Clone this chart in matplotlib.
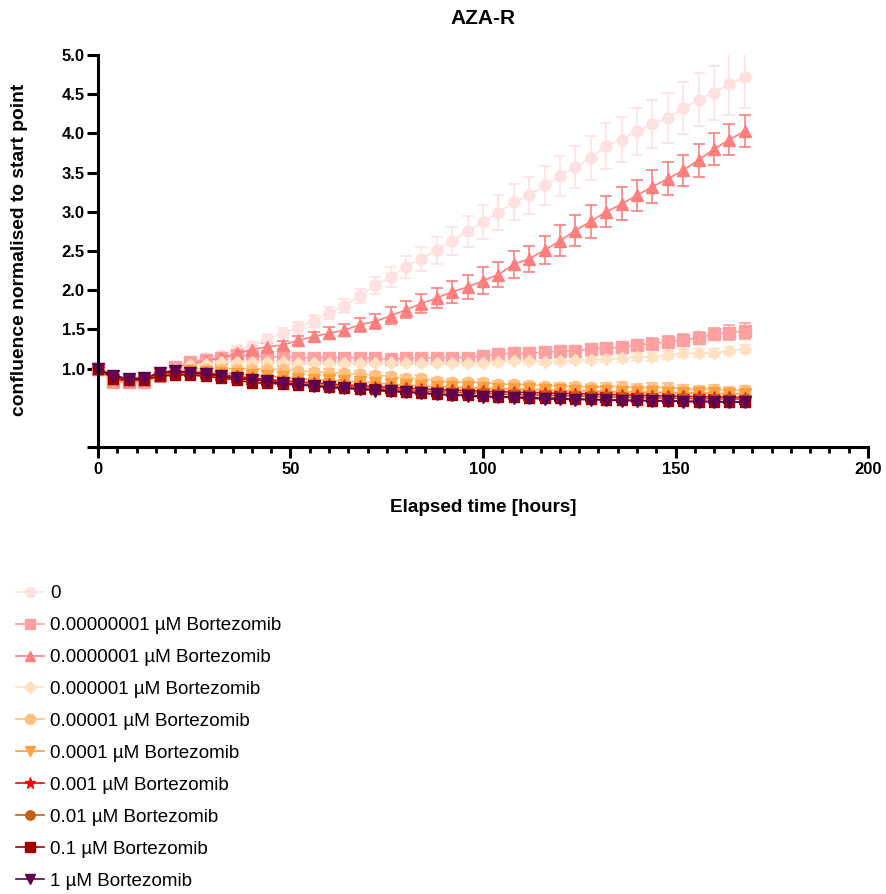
import matplotlib
matplotlib.use("Agg")
import matplotlib.pyplot as plt
from matplotlib.lines import Line2D
from matplotlib.ticker import MultipleLocator

plt.rcParams['font.family'] = ['Liberation Sans', 'DejaVu Sans']

# Elapsed time (hours)
hours = [0, 4, 8, 12, 16, 20, 24, 28, 32, 36, 40, 44, 48, 52, 56, 60, 64, 68, 72, 76,
         80, 84, 88, 92, 96, 100, 104, 108, 112, 116, 120, 124, 128, 132, 136, 140,
         144, 148, 152, 156, 160, 164, 168]

labels = ["0",
          "0.00000001 µM Bortezomib",
          "0.0000001 µM Bortezomib",
          "0.000001 µM Bortezomib",
          "0.00001 µM Bortezomib",
          "0.0001 µM Bortezomib",
          "0.001 µM Bortezomib",
          "0.01 µM Bortezomib",
          "0.1 µM Bortezomib",
          "1 µM Bortezomib"]

# Mean confluence normalised to t=0, and SEM, per condition
conf_0 = [1.00, 0.85, 0.84, 0.85, 0.92, 1.00, 1.08, 1.13, 1.17, 1.24, 1.29, 1.38, 1.45, 1.53,
          1.61, 1.71, 1.80, 1.93, 2.06, 2.17, 2.30, 2.40, 2.51, 2.63, 2.75, 2.87, 2.99, 3.12,
          3.21, 3.34, 3.46, 3.57, 3.69, 3.84, 3.92, 4.03, 4.12, 4.20, 4.32, 4.43, 4.52, 4.63, 4.72]
sem_0 = [0.00, 0.02, 0.02, 0.02, 0.03, 0.03, 0.03, 0.04, 0.04, 0.05, 0.05, 0.06, 0.064, 0.07,
         0.075, 0.077, 0.085, 0.09, 0.106, 0.13, 0.14, 0.15, 0.17, 0.18, 0.20, 0.22, 0.22, 0.23,
         0.24, 0.25, 0.255, 0.27, 0.28, 0.29, 0.29, 0.30, 0.31, 0.32, 0.33, 0.34, 0.345, 0.39, 0.39]

conf_1 = [1.00, 0.83, 0.83, 0.83, 0.90, 1.02, 1.08, 1.11, 1.13, 1.17, 1.16, 1.15, 1.15, 1.14,
          1.14, 1.14, 1.14, 1.14, 1.13, 1.12, 1.13, 1.135, 1.14, 1.14, 1.14, 1.16, 1.19, 1.195,
          1.195, 1.21, 1.22, 1.23, 1.25, 1.26, 1.27, 1.30, 1.32, 1.34, 1.37, 1.39, 1.44, 1.46, 1.48]
sem_1 = [0.00, 0.02, 0.02, 0.02, 0.02, 0.03, 0.03, 0.03, 0.03, 0.03, 0.03, 0.03, 0.03, 0.03,
         0.03, 0.03, 0.03, 0.03, 0.03, 0.03, 0.03, 0.03, 0.04, 0.04, 0.04, 0.04, 0.04, 0.04,
         0.05, 0.05, 0.05, 0.05, 0.05, 0.06, 0.06, 0.06, 0.07, 0.07, 0.07, 0.08, 0.08, 0.09, 0.10]

conf_2 = [1.00, 0.85, 0.84, 0.85, 0.92, 1.00, 1.05, 1.10, 1.14, 1.195, 1.24, 1.28, 1.30, 1.36,
          1.41, 1.45, 1.49, 1.56, 1.60, 1.675, 1.75, 1.83, 1.90, 1.98, 2.04, 2.12, 2.20, 2.33,
          2.40, 2.51, 2.63, 2.76, 2.88, 3.00, 3.10, 3.21, 3.32, 3.42, 3.53, 3.66, 3.80, 3.92, 4.03]
sem_2 = [0.00, 0.02, 0.02, 0.02, 0.02, 0.03, 0.03, 0.03, 0.04, 0.04, 0.04, 0.05, 0.05, 0.06,
         0.06, 0.077, 0.08, 0.09, 0.10, 0.106, 0.11, 0.12, 0.13, 0.14, 0.15, 0.17, 0.16, 0.17,
         0.17, 0.18, 0.20, 0.20, 0.21, 0.20, 0.21, 0.20, 0.21, 0.21, 0.20, 0.21, 0.20, 0.20, 0.20]

conf_3 = [1.00, 0.86, 0.85, 0.86, 0.93, 1.00, 1.04, 1.06, 1.08, 1.09, 1.09, 1.08, 1.08, 1.07,
          1.07, 1.07, 1.07, 1.07, 1.07, 1.07, 1.07, 1.07, 1.07, 1.07, 1.07, 1.07, 1.09, 1.10,
          1.10, 1.09, 1.095, 1.11, 1.11, 1.12, 1.13, 1.15, 1.15, 1.17, 1.195, 1.195, 1.20, 1.23, 1.25]
sem_3 = [0.00, 0.02, 0.02, 0.02, 0.02, 0.03, 0.03, 0.03, 0.03, 0.03, 0.03, 0.03, 0.03, 0.03,
         0.03, 0.03, 0.03, 0.03, 0.03, 0.03, 0.03, 0.03, 0.03, 0.03, 0.04, 0.04, 0.04, 0.04,
         0.04, 0.04, 0.04, 0.04, 0.04, 0.04, 0.05, 0.05, 0.05, 0.05, 0.05, 0.05, 0.05, 0.05, 0.05]

conf_4 = [1.00, 0.87, 0.86, 0.87, 0.93, 0.98, 1.00, 1.00, 1.00, 1.00, 1.00, 0.99, 0.99, 0.97,
          0.96, 0.95, 0.94, 0.93, 0.915, 0.90, 0.875, 0.875, 0.846, 0.83, 0.825, 0.825, 0.80, 0.80,
          0.79, 0.78, 0.77, 0.775, 0.76, 0.77, 0.775, 0.75, 0.76, 0.765, 0.74, 0.73, 0.735, 0.72, 0.725]
sem_4 = [0.00, 0.02, 0.02, 0.02, 0.02, 0.03, 0.03, 0.03, 0.03, 0.03, 0.03, 0.03, 0.04, 0.04,
         0.04, 0.04, 0.04, 0.04, 0.04, 0.04, 0.04, 0.04, 0.04, 0.04, 0.04, 0.04, 0.04, 0.04,
         0.04, 0.04, 0.04, 0.04, 0.04, 0.04, 0.05, 0.05, 0.05, 0.05, 0.05, 0.05, 0.05, 0.05, 0.05]

conf_5 = [1.00, 0.86, 0.85, 0.86, 0.93, 0.96, 0.97, 0.96, 0.95, 0.93, 0.92, 0.90, 0.89, 0.87,
          0.86, 0.85, 0.84, 0.83, 0.815, 0.80, 0.79, 0.78, 0.77, 0.765, 0.76, 0.75, 0.745, 0.74,
          0.735, 0.73, 0.725, 0.72, 0.715, 0.71, 0.705, 0.70, 0.70, 0.695, 0.69, 0.69, 0.685, 0.68, 0.68]
sem_5 = [0.00, 0.02, 0.02, 0.02, 0.02, 0.02, 0.02, 0.02, 0.02, 0.02, 0.02, 0.02, 0.02, 0.02,
         0.02, 0.02, 0.02, 0.02, 0.02, 0.02, 0.02, 0.02, 0.02, 0.02, 0.02, 0.02, 0.02, 0.02,
         0.02, 0.02, 0.02, 0.02, 0.02, 0.02, 0.02, 0.02, 0.02, 0.02, 0.02, 0.02, 0.02, 0.02, 0.02]

conf_6 = [1.00, 0.90, 0.87, 0.88, 0.93, 0.95, 0.95, 0.94, 0.92, 0.90, 0.88, 0.86, 0.845, 0.83,
          0.82, 0.805, 0.79, 0.78, 0.77, 0.76, 0.75, 0.74, 0.73, 0.725, 0.72, 0.71, 0.705, 0.70,
          0.695, 0.69, 0.685, 0.68, 0.675, 0.67, 0.665, 0.66, 0.655, 0.65, 0.645, 0.645, 0.64, 0.635, 0.63]
sem_6 = [0.00, 0.02, 0.02, 0.02, 0.02, 0.02, 0.02, 0.02, 0.02, 0.02, 0.02, 0.02, 0.02, 0.02,
         0.02, 0.02, 0.02, 0.02, 0.02, 0.02, 0.02, 0.02, 0.02, 0.02, 0.02, 0.02, 0.02, 0.02,
         0.02, 0.02, 0.02, 0.02, 0.02, 0.02, 0.02, 0.02, 0.02, 0.02, 0.02, 0.02, 0.02, 0.02, 0.02]

conf_7 = [1.00, 0.88, 0.86, 0.87, 0.92, 0.94, 0.94, 0.92, 0.90, 0.88, 0.86, 0.84, 0.82, 0.81,
          0.795, 0.78, 0.77, 0.755, 0.745, 0.735, 0.725, 0.715, 0.705, 0.70, 0.69, 0.685, 0.675, 0.67,
          0.665, 0.66, 0.655, 0.65, 0.645, 0.64, 0.635, 0.63, 0.625, 0.625, 0.62, 0.615, 0.615, 0.61, 0.61]
sem_7 = [0.00, 0.02, 0.02, 0.02, 0.02, 0.02, 0.02, 0.02, 0.02, 0.02, 0.02, 0.02, 0.02, 0.02,
         0.02, 0.02, 0.02, 0.02, 0.02, 0.02, 0.02, 0.02, 0.02, 0.02, 0.02, 0.02, 0.02, 0.02,
         0.02, 0.02, 0.02, 0.02, 0.02, 0.02, 0.02, 0.02, 0.02, 0.02, 0.02, 0.02, 0.02, 0.02, 0.02]

conf_8 = [1.00, 0.87, 0.85, 0.86, 0.90, 0.92, 0.92, 0.90, 0.88, 0.855, 0.82, 0.815, 0.80, 0.79,
          0.78, 0.76, 0.755, 0.745, 0.735, 0.715, 0.70, 0.69, 0.675, 0.665, 0.66, 0.65, 0.64, 0.64,
          0.63, 0.625, 0.62, 0.61, 0.61, 0.60, 0.60, 0.595, 0.59, 0.59, 0.585, 0.58, 0.58, 0.575, 0.57]
sem_8 = [0.00, 0.02, 0.02, 0.02, 0.02, 0.02, 0.02, 0.02, 0.02, 0.02, 0.02, 0.02, 0.02, 0.02,
         0.02, 0.02, 0.02, 0.02, 0.02, 0.02, 0.02, 0.02, 0.02, 0.02, 0.02, 0.02, 0.02, 0.02,
         0.02, 0.02, 0.02, 0.02, 0.02, 0.02, 0.02, 0.02, 0.02, 0.02, 0.02, 0.02, 0.02, 0.02, 0.02]

conf_9 = [1.00, 0.91, 0.87, 0.875, 0.95, 0.97, 0.95, 0.935, 0.91, 0.875, 0.86, 0.84, 0.81, 0.80,
          0.78, 0.76, 0.75, 0.735, 0.72, 0.71, 0.70, 0.69, 0.67, 0.665, 0.65, 0.64, 0.64, 0.63,
          0.62, 0.615, 0.61, 0.605, 0.605, 0.60, 0.59, 0.59, 0.59, 0.585, 0.58, 0.58, 0.58, 0.575, 0.57]
sem_9 = [0.00, 0.02, 0.02, 0.02, 0.02, 0.02, 0.02, 0.02, 0.02, 0.02, 0.02, 0.02, 0.02, 0.02,
         0.02, 0.02, 0.02, 0.02, 0.02, 0.02, 0.02, 0.02, 0.02, 0.02, 0.02, 0.02, 0.02, 0.02,
         0.02, 0.02, 0.02, 0.02, 0.02, 0.02, 0.02, 0.02, 0.02, 0.02, 0.02, 0.02, 0.02, 0.02, 0.02]

means = [conf_0, conf_1, conf_2, conf_3, conf_4, conf_5, conf_6, conf_7, conf_8, conf_9]
sems = [sem_0, sem_1, sem_2, sem_3, sem_4, sem_5, sem_6, sem_7, sem_8, sem_9]

colors = ['#FFE0E0', '#FF9F9F', '#FF7F7F', '#FFE0C0', '#FFC080',
          '#FFA040', '#FF0000', '#C06010', '#A00000', '#600050']
markers = ['o', 's', '^', 'D', '8', 'v', '*', 'o', 's', 'v']
msizes = [8, 8, 8, 6.5, 8, 8, 9, 7.5, 7.5, 8.5]

W, H = 887, 894
fig = plt.figure(figsize=(W / 100, H / 100), dpi=100)
ax = fig.add_axes([98 / W, 1 - 447 / H, 770 / W, 392 / H])

handles = []
for y, e, c, m, s in zip(means, sems, colors, markers, msizes):
    cont = ax.errorbar(hours, y, yerr=e, color=c, marker=m, ms=s, mfc=c, mec=c,
                       lw=1.2, elinewidth=1.2, capsize=4, capthick=1.2)
    cont.lines[0].set_clip_on(False)
    handles.append(Line2D([], [], color=c, marker=m, ms=s * 0.9, mfc=c, mec=c, lw=1.2))

ax.set_xlim(0, 200)
ax.set_ylim(0, 5)
ax.xaxis.set_major_locator(MultipleLocator(50))
ax.xaxis.set_minor_locator(MultipleLocator(5))
yt = [0, 1.0, 1.5, 2.0, 2.5, 3.0, 3.5, 4.0, 4.5, 5.0]
ax.set_yticks(yt)
ax.set_yticklabels([''] + [f'{v:.1f}' for v in yt[1:]])

for side in ('top', 'right'):
    ax.spines[side].set_visible(False)
for side in ('left', 'bottom'):
    ax.spines[side].set_linewidth(2.2)
    ax.spines[side].set_capstyle('projecting')

ax.tick_params(axis='both', which='major', length=8, width=2.2, labelsize=12, pad=3)
ax.tick_params(axis='y', which='major', pad=1.5)
ax.tick_params(axis='x', which='minor', length=4.5, width=2.0)
for lab in ax.get_xticklabels() + ax.get_yticklabels():
    lab.set_fontweight('bold')

fig.text(483 / W, 1 - 18 / H, 'AZA-R', ha='center', va='center',
         fontsize=15, fontweight='bold')
fig.text(483 / W, 1 - 507 / H, 'Elapsed time [hours]', ha='center', va='center',
         fontsize=13.6, fontweight='bold')
fig.text(20 / W, 1 - 250 / H, 'confluence normalised to start point', ha='center',
         va='center', rotation=90, fontsize=13.9, fontweight='bold')

fig.legend(handles, labels, loc='upper left', bbox_to_anchor=(16 / W, 1 - 585 / H),
           frameon=False, fontsize=13.6, handlelength=1.5, handletextpad=0.3,
           labelspacing=0.78, borderaxespad=0, borderpad=0)

fig.savefig('out.png', dpi=100)
